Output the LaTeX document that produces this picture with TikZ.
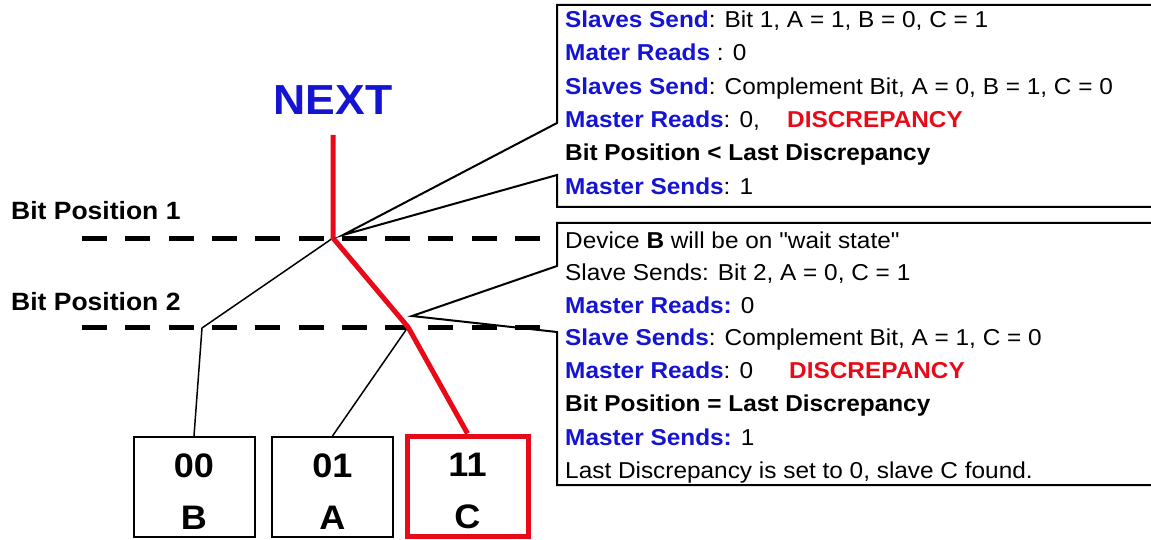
\documentclass[tikz,border=0pt]{standalone}
\usepackage{fontspec}
\setmainfont{Liberation Sans}[FakeStretch=1.06, Ligatures=TeXOff]
\definecolor{tblue}{RGB}{20,20,210}
\definecolor{tred}{RGB}{232,10,25}
\newcommand\kw[1]{\textcolor{tblue}{\bfseries #1}}
\tikzset{
  txt/.style={anchor=base west, inner sep=0pt, font=\fontsize{23}{28}\selectfont},
  lvl/.style={anchor=base west, inner sep=0pt, font=\fontsize{25}{28}\selectfont\bfseries},
  thin/.style={line width=1.5pt, line join=miter},
  redpath/.style={draw=tred, line width=5pt, line join=round},
  level/.style={line width=5pt, dash pattern=on 25pt off 18.3pt},
  leaf/.style={draw, line width=2pt, minimum width=121pt, minimum height=100pt, inner sep=0pt},
  digits/.style={align=center, inner sep=0pt, font=\fontsize{34}{52}\selectfont\bfseries},
  callout/.style={line width=2pt, line join=miter}
}
\begin{document}
\begin{tikzpicture}[x=1pt, y=-1pt]
\useasboundingbox (0,0) rectangle (1151,540);

% title and level labels
\node[font=\fontsize{42}{50}\selectfont\bfseries, text=tblue, inner sep=0pt] (next) at (333,100) {NEXT};
\node[lvl] (lbl1) at (11,220) {Bit Position 1};
\node[lvl] (lbl2) at (11,310) {Bit Position 2};

% bit position levels
\draw[level] (82,238) -- (542,238);
\draw[level] (82,327) -- (542,327);

% tree junctions
\coordinate (root) at (333,135);
\coordinate (b1) at (333,238);
\coordinate (b2) at (408,327);
\coordinate (lb) at (202,328);

% leaves
\node[leaf] (boxB) at (194,487) {};
\node[leaf] (boxA) at (332.5,487) {};
\node[leaf, draw=tred, line width=5pt] (boxC) at (467.5,486) {};
\node[digits] (keyB) at ([yshift=-4.5pt]boxB.center) {00\\B};
\node[digits] (keyA) at ([yshift=-4.5pt]boxA.center) {01\\A};
\node[digits] (keyC) at ([yshift=-4.5pt]boxC.center) {11\\C};

% branches
\draw[thin] (b1) -- (lb) -- (boxB.north);
\draw[thin] (b2) -- (boxA.north);
\draw[redpath] (root) -- (b1) -- (b2) -- (boxC.north);

% callout for bit position 1
\coordinate (p1) at (343,235);
\draw[callout] (1160,5) -- (557,5) -- (557,123) -- (p1) -- (557,175) -- (557,207) -- (1160,207);
\node[txt] (t1) at (565,28) {\kw{Slaves Send}: Bit 1, A = 1, B = 0, C = 1};
\node[txt] (t2) at (565,61) {\kw{Mater Reads} : 0};
\node[txt] (t3) at (565,95) {\kw{Slaves Send}: Complement Bit, A = 0, B = 1, C = 0};
\node[txt] (t4) at (565,128) {\kw{Master Reads}: 0,};
\node[txt, text=tred, font=\fontsize{23}{28}\selectfont\bfseries] (d1) at (787,128) {DISCREPANCY};
\node[txt, font=\fontsize{23}{28}\selectfont\bfseries] (t5) at (565,161) {Bit Position < Last Discrepancy};
\node[txt] (t6) at (565,195) {\kw{Master Sends}: 1};

% callout for bit position 2
\coordinate (p2) at (412,316);
\draw[callout] (1160,223) -- (557,223) -- (557,266) -- (p2) -- (557,332) -- (557,485) -- (1160,485);
\node[txt] (u1) at (565,248) {Device \textbf{B} will be on "wait state"};
\node[txt] (u2) at (565,280) {Slave Sends: Bit 2, A = 0, C = 1};
\node[txt] (u3) at (565,313) {\kw{Master Reads:} 0};
\node[txt] (u4) at (565,345) {\kw{Slave Sends}: Complement Bit, A = 1, C = 0};
\node[txt] (u5) at (565,378) {\kw{Master Reads}: 0};
\node[txt, text=tred, font=\fontsize{23}{28}\selectfont\bfseries] (d2) at (789,378) {DISCREPANCY};
\node[txt, font=\fontsize{23}{28}\selectfont\bfseries] (u6) at (565,411) {Bit Position = Last Discrepancy};
\node[txt] (u7) at (565,445) {\kw{Master Sends:} 1};
\node[txt] (u8) at (565,478) {Last Discrepancy is set to 0, slave C found.};
\end{tikzpicture}
\end{document}
